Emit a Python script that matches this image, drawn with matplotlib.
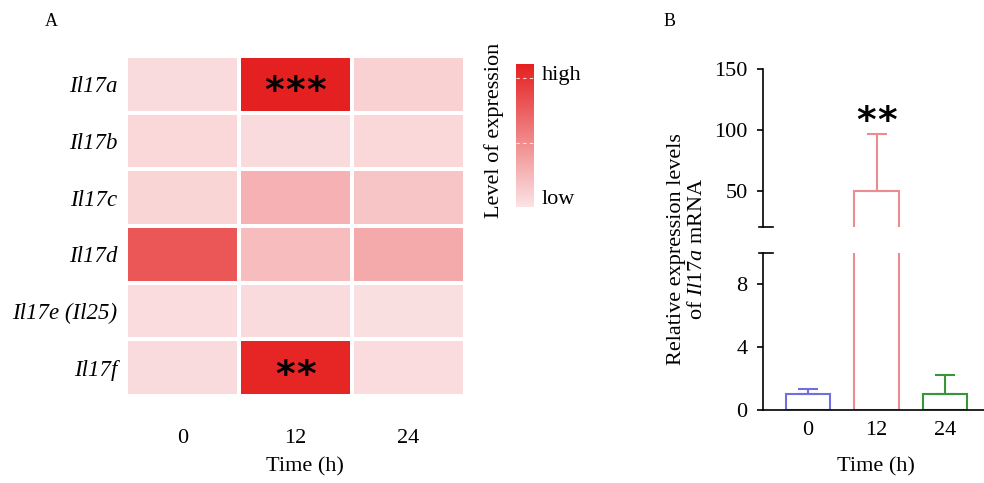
import matplotlib
matplotlib.use('Agg')
import matplotlib.pyplot as plt
import numpy as np
from matplotlib.colors import LinearSegmentedColormap

plt.rcParams['font.family'] = 'Liberation Serif'
plt.rcParams['mathtext.fontset'] = 'custom'
plt.rcParams['mathtext.rm'] = 'Liberation Serif'
plt.rcParams['mathtext.it'] = 'Liberation Serif:italic'

# panel A data
genes = ['Il17a', 'Il17b', 'Il17c', 'Il17d', 'Il17e (Il25)', 'Il17f']
times = ['0', '12', '24']
levels = [[0.05, 1.00, 0.10],
          [0.06, 0.05, 0.07],
          [0.08, 0.26, 0.16],
          [0.72, 0.20, 0.30],
          [0.04, 0.05, 0.03],
          [0.05, 0.97, 0.04]]
star_rows = [0, 5]
star_cols = [1, 1]
star_counts = [3, 2]

# panel B data
bar_labels = ['0', '12', '24']
bar_means = [1.0, 50.0, 1.05]
bar_errs = [0.35, 46.5, 1.2]
bar_colors = ['#6f6fe0', '#ea8c92', '#3a953a']
bar_stars = [0, 2, 0]

W, H = 984, 483
fig = plt.figure(figsize=(W / 100, H / 100), dpi=100)

def box(x0, y0, x1, y1):
    # pixel box (top-left origin) -> figure fraction rect
    return [x0 / W, 1 - y1 / H, (x1 - x0) / W, (y1 - y0) / H]

def stars(a, xc, y, n, step):
    offs = (np.arange(n) - (n - 1) / 2) * step
    for o in offs:
        a.text(xc + o, y, '*', ha='center', va='center', fontsize=27,
               fontweight='bold', family='DejaVu Sans')

cmap = LinearSegmentedColormap.from_list('expr', ['#fbe4e6', '#e52020'])

# ---- heatmap
ax = fig.add_axes(box(126, 56, 465, 396))
data = np.array(levels)
ax.pcolormesh(np.arange(len(times) + 1), np.arange(len(genes) + 1), data,
              cmap=cmap, vmin=0, vmax=1, edgecolors='white', linewidth=1.5)
ax.set_xlim(0, len(times))
ax.set_ylim(len(genes), 0)
ax.set_xticks(np.arange(len(times)) + 0.5)
ax.set_xticklabels(times, fontsize=16)
ax.set_yticks(np.arange(len(genes)) + 0.5)
ax.set_yticklabels(genes, fontsize=16.5, style='italic')
ax.tick_params(length=0, pad=6)
ax.tick_params(axis='x', pad=24)
for s in ax.spines.values():
    s.set_visible(False)
for r, c, n in zip(star_rows, star_cols, star_counts):
    stars(ax, c + 0.5, r + 0.64, n, 0.186)
fig.text(305 / W, 1 - 467 / H, 'Time (h)', ha='center', va='center', fontsize=16)
fig.text(51 / W, 1 - 22 / H, 'A', ha='center', va='center', fontsize=13)

# ---- colour key
cax = fig.add_axes(box(516, 64, 534, 207))
cax.imshow(np.linspace(0, 1, 256)[:, None], aspect='auto', cmap=cmap,
           origin='lower', extent=[0, 1, 0, 1])
cax.set_axis_off()
for yy in [0.905, 0.45]:
    cax.plot([0, 1], [yy, yy], color='white', lw=0.8, ls=(0, (3, 3)), alpha=0.8)
cax.text(1.45, 0.92, 'high', transform=cax.transAxes, ha='left', va='center', fontsize=16)
cax.text(1.45, 0.05, 'low', transform=cax.transAxes, ha='left', va='center', fontsize=16)
fig.text(494 / W, 1 - 130 / H, 'Level of expression', rotation=90,
         ha='center', va='center', fontsize=16)

# ---- panel B, broken y axis
x = np.arange(len(bar_means))
ax_top = fig.add_axes(box(763, 69, 984, 227))
ax_bot = fig.add_axes(box(763, 253, 984, 410))
for a in (ax_top, ax_bot):
    a.bar(x, bar_means, width=0.65, facecolor='none', edgecolor=bar_colors, linewidth=1.5)
    for xi, m, e, c in zip(x, bar_means, bar_errs, bar_colors):
        a.errorbar(xi, m, yerr=[[0], [e]], color=c, capsize=7.5, elinewidth=1.5,
                   capthick=1.5, fmt='none')
    a.set_xlim(-0.66, 2.57)
    a.spines['top'].set_visible(False)
    a.spines['right'].set_visible(False)
    a.spines['left'].set_linewidth(1.2)
    a.spines['bottom'].set_linewidth(1.2)
    a.tick_params(axis='y', length=4, width=1.2, labelsize=16, pad=7)

ax_top.set_ylim(20, 150)
ax_top.set_yticks([50, 100, 150])
ax_top.spines['bottom'].set_visible(False)
ax_top.set_xticks([])
ax_bot.set_ylim(0, 10)
ax_bot.set_yticks([0, 4, 8])
ax_bot.set_xticks(x)
ax_bot.set_xticklabels(bar_labels, fontsize=16)
ax_bot.tick_params(axis='x', length=0, pad=8)

# break marks
ax_top.plot([-0.018, 0.045], [0, 0], transform=ax_top.transAxes, color='black',
            lw=1.2, clip_on=False)
ax_bot.plot([-0.018, 0.045], [1, 1], transform=ax_bot.transAxes, color='black',
            lw=1.2, clip_on=False)

for xi, n in zip(x, bar_stars):
    if n:
        stars(ax_top, xi, 106, n, 0.307)
fig.text(876 / W, 1 - 467 / H, 'Time (h)', ha='center', va='center', fontsize=16)
fig.text(687 / W, 1 - 249 / H, 'Relative expression levels\nof $\\mathit{Il17a}$ mRNA',
         rotation=90, ha='center', va='center', fontsize=16, linespacing=1.1,
         multialignment='center')
fig.text(670 / W, 1 - 22 / H, 'B', ha='center', va='center', fontsize=13)

fig.savefig('out.png', dpi=100)
